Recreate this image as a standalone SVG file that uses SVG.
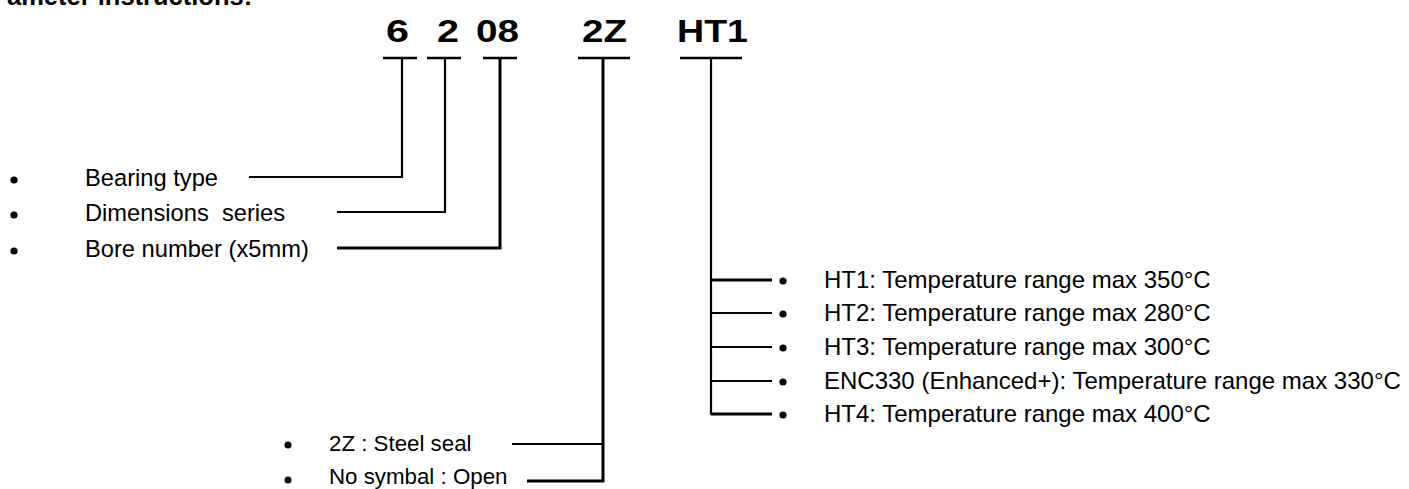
<svg xmlns="http://www.w3.org/2000/svg" width="1409" height="489" viewBox="0 0 1409 489">
<style>
.t{font-family:"Liberation Sans",Arial,sans-serif;font-size:23.7px;fill:#000}
.r{font-size:24px}
.s{font-size:22.3px}
.c{font-family:"Liberation Sans",Arial,sans-serif;font-size:31.5px;font-weight:bold;fill:#000}
.h{font-family:"Liberation Sans",Arial,sans-serif;font-size:25.5px;font-weight:bold;fill:#000}
.ln{stroke:#000;stroke-width:2.2;fill:none}
.thk{stroke:#000;stroke-width:3;fill:none}
.bar{stroke:#000;stroke-width:2.4}
.b{fill:#000}
</style>
<rect width="1409" height="489" fill="#fff"/>
<g id="header"><text class="h" x="7" y="5">ameter instructions:</text></g>

<g id="code-6"><text class="c" x="386" y="42" textLength="23" lengthAdjust="spacingAndGlyphs">6</text><line class="bar" x1="383" y1="58" x2="417" y2="58" stroke-width="3.5"/></g>
<g id="code-2"><text class="c" x="437" y="42" textLength="22" lengthAdjust="spacingAndGlyphs">2</text><line class="bar" x1="427" y1="58" x2="461" y2="58"/></g>
<g id="code-08"><text class="c" x="476" y="42" textLength="43" lengthAdjust="spacingAndGlyphs">08</text><line class="bar" x1="483" y1="58" x2="517" y2="58"/></g>
<g id="code-2Z"><text class="c" x="582" y="42" textLength="45" lengthAdjust="spacingAndGlyphs">2Z</text><line class="bar" x1="578" y1="58" x2="630" y2="58"/></g>
<g id="code-HT1"><text class="c" x="677" y="42" textLength="71" lengthAdjust="spacingAndGlyphs">HT1</text><line class="bar" x1="680" y1="58" x2="742" y2="58"/></g>

<g id="connectors">
<polyline class="ln" points="402,58 402,177 249,177"/>
<polyline class="ln" points="445,58 445,212 337,212"/>
<polyline class="thk" points="500,58 500,248 337,248"/>
<polyline class="thk" points="603,58 603,481 527,481"/>
<line class="ln" x1="603" y1="444" x2="512" y2="444"/>
<polyline class="ln" points="711,58 711,414 772,414"/>
<line class="thk" x1="711" y1="280" x2="772" y2="280"/>
<line class="ln" x1="711" y1="313" x2="772" y2="313"/>
<line class="ln" x1="711" y1="347" x2="772" y2="347"/>
<line class="ln" x1="711" y1="381" x2="772" y2="381"/>
<line class="thk" x1="711" y1="414" x2="772" y2="414"/>
</g>

<g id="label-bearing-type"><circle class="b" cx="14" cy="180" r="3.6"/><text class="t" x="85" y="186">Bearing type</text></g>
<g id="label-dimensions"><circle class="b" cx="14" cy="215" r="3.6"/><text class="t" x="85" y="221" xml:space="preserve">Dimensions  series</text></g>
<g id="label-bore"><circle class="b" cx="14" cy="251" r="3.6"/><text class="t" x="85" y="257">Bore number (x5mm)</text></g>

<g id="label-ht1"><circle class="b" cx="783" cy="281" r="3.6"/><text class="t r" x="824" y="288">HT1: Temperature range max 350°C</text></g>
<g id="label-ht2"><circle class="b" cx="783" cy="314" r="3.6"/><text class="t r" x="824" y="321">HT2: Temperature range max 280°C</text></g>
<g id="label-ht3"><circle class="b" cx="783" cy="348" r="3.6"/><text class="t r" x="824" y="355">HT3: Temperature range max 300°C</text></g>
<g id="label-enc330"><circle class="b" cx="783" cy="382" r="3.6"/><text class="t r" x="824" y="389">ENC330 (Enhanced+): Temperature range max 330°C</text></g>
<g id="label-ht4"><circle class="b" cx="783" cy="415" r="3.6"/><text class="t r" x="824" y="422">HT4: Temperature range max 400°C</text></g>

<g id="label-2z"><circle class="b" cx="288" cy="445" r="3.5"/><text class="t s" x="329" y="451">2Z : Steel seal</text></g>
<g id="label-open"><circle class="b" cx="288" cy="480" r="3.5"/><text class="t s" x="329" y="484">No symbal : Open</text></g>
</svg>
